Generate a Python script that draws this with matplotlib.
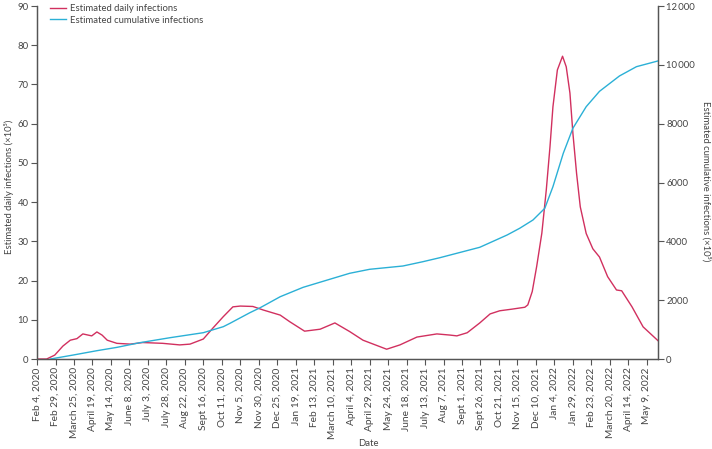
import numpy as np
import matplotlib
matplotlib.use("Agg")
import matplotlib.pyplot as plt

plt.rcParams['font.family'] = ['Lato', 'DejaVu Sans']

# days since Feb 4, 2020
daily_day = [0, 13, 24, 35, 45, 54, 62, 74, 81, 88, 95, 108, 126, 143, 170, 193, 207,
             225, 238, 252, 265, 275, 292, 306, 329, 342, 362, 383, 403, 423, 441, 473,
             491, 514, 541, 559, 568, 582, 599, 613, 626, 642, 660, 664, 670, 676, 683, 689,
             694, 698, 704, 711, 716, 721, 725, 730, 735, 743, 752, 761, 772, 784, 791, 805,
             820, 840]
daily_val = [0, 0, 1.0, 3.3, 4.8, 5.2, 6.4, 5.9, 6.9, 6.1, 4.8, 4.0, 3.8, 4.2, 4.0, 3.6, 3.8,
             5.1, 7.9, 10.8, 13.3, 13.5, 13.4, 12.5, 11.2, 9.5, 7.1, 7.6, 9.2, 7.0, 4.8, 2.5,
             3.6, 5.6, 6.4, 6.1, 5.9, 6.7, 9.2, 11.5, 12.3, 12.7, 13.2, 13.8, 17.2, 23.6, 32.1, 43.1,
             54.1, 64.3, 73.7, 77.2, 74.5, 67.8, 57.6, 47.3, 38.8, 32.0, 28.1, 26.0, 21.0, 17.6, 17.4, 13.3,
             8.2, 4.7]

cum_day = [18, 49, 81, 108, 139, 180, 225, 252, 261, 288, 302, 329, 360, 396, 423, 450,
           495, 522, 545, 559, 599, 636, 653, 671, 687, 698, 712, 725, 743, 761, 788, 811, 840]
cum_val = [0, 136, 283, 396, 555, 725, 895, 1099, 1213, 1575, 1745, 2118, 2437, 2710, 2914, 3050,
           3162, 3308, 3444, 3536, 3798, 4216, 4444, 4726, 5124, 5858, 6994, 7844, 8578, 9100, 9622,
           9938, 10132]

tick_labels = ["Feb 4, 2020", "Feb 29, 2020", "March 25, 2020", "April 19, 2020", "May 14, 2020",
               "June 8, 2020", "July 3, 2020", "July 28, 2020", "Aug 22, 2020", "Sept 16, 2020",
               "Oct 11, 2020", "Nov 5, 2020", "Nov 30, 2020", "Dec 25, 2020", "Jan 19, 2021",
               "Feb 13, 2021", "March 10, 2021", "April 4, 2021", "April 29, 2021", "May 24, 2021",
               "June 18, 2021", "July 13, 2021", "Aug 7, 2021", "Sept 1, 2021", "Sept 26, 2021",
               "Oct 21, 2021", "Nov 15, 2021", "Dec 10, 2021", "Jan 4, 2022", "Jan 29, 2022",
               "Feb 23, 2022", "March 20, 2022", "April 14, 2022", "May 9, 2022"]

red = '#d1305f'
cyan = '#2bb0d6'
grey = '#444444'
spine_c = '#555555'
fs = 6.8

fig = plt.figure(figsize=(7.12, 4.49), dpi=100)
ax = fig.add_axes([0.052, 0.2004, 0.872, 0.7862])
ax2 = ax.twinx()

l1, = ax.plot(daily_day, daily_val, color=red, lw=1.0)
l2, = ax2.plot(cum_day, cum_val, color=cyan, lw=1.0)

ax.set_xlim(0, 840)
ax.set_ylim(0, 90)
ax2.set_ylim(0, 12000)
ax.set_yticks(range(0, 91, 10))
ax2.set_yticks(range(0, 12001, 2000))
ax2.set_yticklabels(['0', '2000', '4000', '6000', '8000', '10\u2009000', '12\u2009000'])
ax.set_xticks(np.arange(len(tick_labels)) * 25)
ax.set_xticklabels(tick_labels, rotation=90)

for a in (ax, ax2):
    a.spines['top'].set_visible(False)
    for s in ('left', 'right', 'bottom'):
        a.spines[s].set_color(spine_c)
        a.spines[s].set_linewidth(0.9)
    a.tick_params(direction='out', length=4, width=0.8, color=spine_c,
                  labelsize=fs, labelcolor=grey, pad=2)
ax.tick_params(axis='x', labelsize=7.3)

# axis titles placed in figure coordinates
fig.text(0.012, 1 - 187 / 449, 'Estimated daily infections (\u00d710\u2075)', fontsize=fs,
         color=grey, rotation=90, ha='center', va='center')
fig.text(0.992, 1 - 181 / 449, 'Estimated cumulative infections (\u00d710\u2075)', fontsize=fs,
         color=grey, rotation=270, ha='center', va='center')
fig.text(368 / 712, 1.5 / 449, 'Date', fontsize=fs, color=grey, ha='center', va='bottom')

ax.legend([l1, l2], ['Estimated daily infections', 'Estimated cumulative infections'],
          loc='upper left', bbox_to_anchor=(0.008, 1.03), frameon=False, fontsize=fs,
          handlelength=1.6, handletextpad=0.5, labelspacing=0.3, labelcolor=grey)

fig.savefig('out.png', dpi=100)
